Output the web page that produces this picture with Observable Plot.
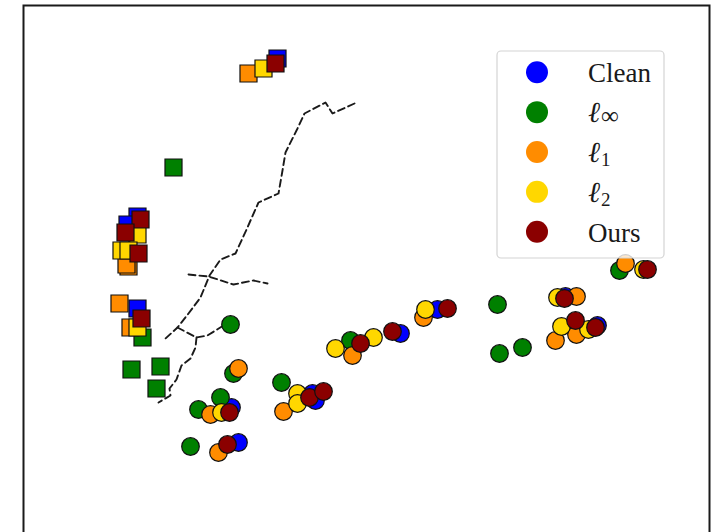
<!DOCTYPE html>
<html><head><meta charset="utf-8">
<script src="https://cdn.jsdelivr.net/npm/d3@7"></script>
<script src="https://cdn.jsdelivr.net/npm/@observablehq/plot@0.6"></script>
<style>
html,body{margin:0;padding:0;background:#fff;overflow:hidden;}
#wrap{position:relative;width:714px;height:532px;overflow:hidden;}
</style></head><body><div id="wrap"></div>
<script>
// Methods and colours
const methods = ["Clean", "linf", "l1", "l2", "Ours"];
const methodColors = ["#0000ff", "#008000", "#ff8c00", "#ffd700", "#8b0000"];

// Square markers (embedding coordinates)
const squaresClean = [[277,58],[137,216],[127,224],[137,308]];
const squaresLinf  = [[173,167],[142,337],[131,369],[160,366],[156,388]];
const squaresL1    = [[248,73],[128,266],[126,264],[119,303],[130,327]];
const squaresL2    = [[263,68],[137,234],[121,250],[128,250],[137,327]];
const squaresOurs  = [[275,63],[140,219],[125,232],[138,253],[141,318]];

// Circle markers
const circlesClean = [[231,407],[238,442],[312,393],[315,400],[400,333],[437,309],[565,296],[597,325]];
const circlesLinf  = [[230,324],[233,373],[220,397],[198,409],[190,446],[281,382],[350,340],[497,304],[499,353],[522,347],[619,270]];
const circlesL1    = [[238,368],[210,414],[218,452],[283,411],[352,355],[423,317],[555,340],[576,334],[576,296],[625,263]];
const circlesL2    = [[221,412],[297,393],[297,403],[335,348],[373,337],[425,309],[561,326],[588,329],[557,297],[643,269]];
const circlesOurs  = [[229,412],[227,444],[309,397],[323,391],[360,343],[392,331],[447,308],[575,320],[595,327],[564,298],[647,269]];

const squaresBy = [squaresClean, squaresLinf, squaresL1, squaresL2, squaresOurs];
const circlesBy = [circlesClean, circlesLinf, circlesL1, circlesL2, circlesOurs];

// Dashed tree branches
const trunk = [[354,103],[332,113],[325,102],[304,113],[297,128],[285,152],[282,170],[278,193],[258,202],[250,220],[247,227],[235,253],[220,259],[209,275],[200,297],[188,313],[177,327],[165,338]];
const branchCross = [[188,274],[208,276],[233,284],[253,280],[267,283]];
const branchRight = [[177,327],[196,337],[207,335],[223,325]];
const branchDown  = [[196,337],[195,347],[190,358],[181,365],[176,379],[169,388],[170,395],[158,402]];
const branches = [trunk, branchCross, branchRight, branchDown];

const treeData = branches.flatMap((b, i) => b.map(([x, y]) => ({branch: i, x, y})));
const toRows = arr => arr.map(([x, y]) => ({x, y}));

const marks = [
  Plot.frame({stroke: "#1a1a1a", strokeWidth: 2}),
  Plot.line(treeData, {x: "x", y: "y", z: "branch", stroke: "#1a1a1a", strokeWidth: 1.9, strokeDasharray: "7,4"})
];
methods.forEach((m, i) => {
  marks.push(Plot.dot(toRows(squaresBy[i]), {x: "x", y: "y", symbol: "square", r: 9.6, fill: methodColors[i], stroke: "#111", strokeWidth: 1.2}));
  marks.push(Plot.dot(toRows(circlesBy[i]), {x: "x", y: "y", symbol: "circle", r: 8.8, fill: methodColors[i], stroke: "#111", strokeWidth: 1.2}));
});

const plot = Plot.plot({
  width: 714, height: 560,
  marginLeft: 23, marginRight: 5, marginTop: 5, marginBottom: 20,
  x: {domain: [23, 709], axis: null},
  y: {domain: [5, 540], reverse: true, axis: null},
  marks
});
document.getElementById("wrap").appendChild(plot);

// Legend (inside the plot, upper right)
const svg = d3.select(plot);
const serif = "'Liberation Serif','DejaVu Serif',serif";
const lg = svg.append("g");
lg.append("rect").attr("x", 497).attr("y", 51).attr("width", 167).attr("height", 207)
  .attr("rx", 4).attr("fill", "rgba(255,255,255,0.8)").attr("stroke", "#d4d4d4").attr("stroke-width", 1.2);
const labels = [["Clean", null], ["ℓ", "∞"], ["ℓ", "1"], ["ℓ", "2"], ["Ours", null]];
labels.forEach(([main, sub], i) => {
  const cy = 72.3 + 39.85 * i;
  lg.append("circle").attr("cx", 537).attr("cy", cy).attr("r", 11).attr("fill", methodColors[i]);
  const t = lg.append("text").attr("x", 588).attr("y", cy + 10)
    .style("font-family", serif).style("font-size", "27px").style("fill", "#1a1a1a").style("text-anchor", "start");
  t.append("tspan").style("font-style", sub ? "italic" : "normal").style("font-size", sub ? "29px" : "27px").text(main);
  if (sub) t.append("tspan").style("font-size", sub === "∞" ? "25px" : "19px").style("font-style", "normal")
    .attr("dx", 1).attr("dy", sub === "∞" ? 2 : 4).text(sub);
});
</script></body></html>
